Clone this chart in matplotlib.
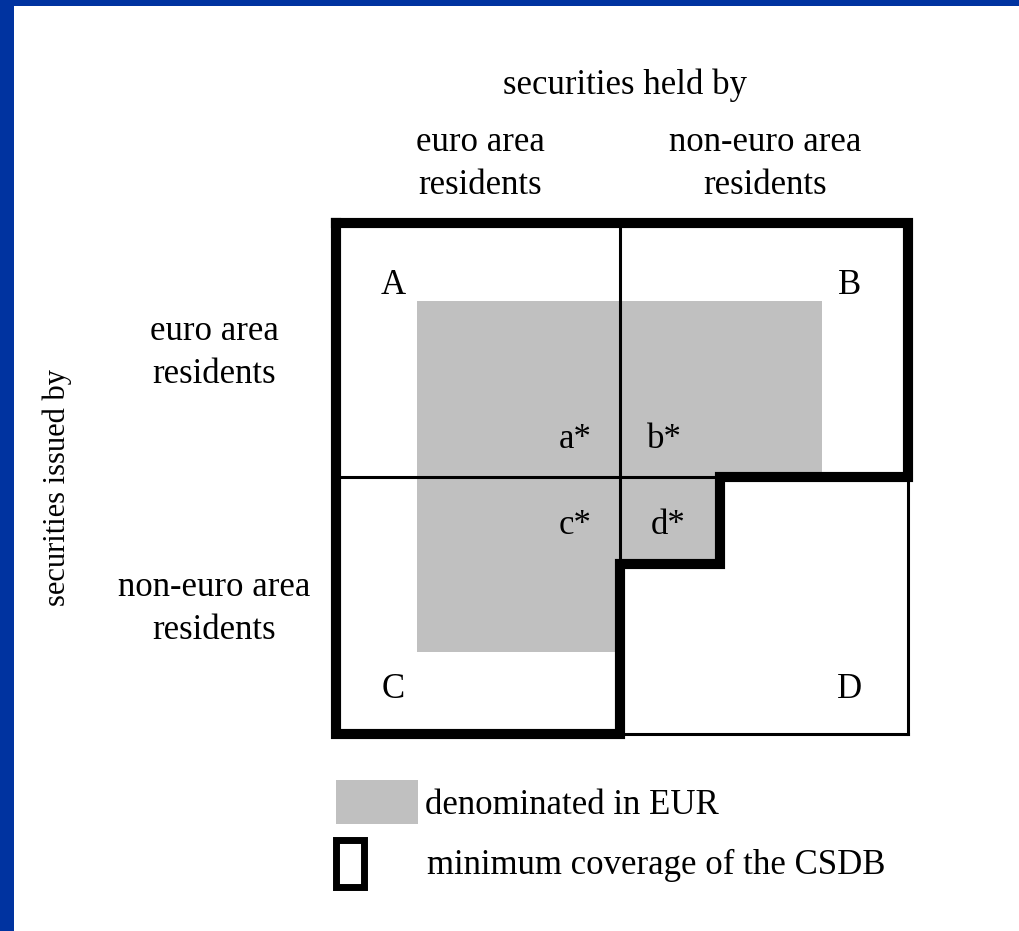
import matplotlib
matplotlib.use("Agg")
import matplotlib.pyplot as plt
from matplotlib.patches import Polygon, Rectangle

# Diagram texts
title_top = "securities held by"
title_side = "securities issued by"
col_labels = ["euro area\nresidents", "non-euro area\nresidents"]
row_labels = ["euro area\nresidents", "non-euro area\nresidents"]
corner_labels = ["A", "B", "C", "D"]
inner_labels = ["a*", "b*", "c*", "d*"]
legend_labels = ["denominated in EUR", "minimum coverage of the CSDB"]

blue = "#0033a0"
gray = "#c0c0c0"
W, H = 1019, 931

plt.rcParams['font.family'] = ['Liberation Serif', 'DejaVu Serif']
fs = 25
dy = 3  # small nudge so text sits like the original

fig = plt.figure(figsize=(W / 100, H / 100), dpi=100)
ax = fig.add_axes([0, 0, 1, 1])
ax.set_xlim(0, W)
ax.set_ylim(H, 0)
ax.axis('off')

# blue slide frame (left and top)
ax.add_patch(Rectangle((0, 0), 14, H, color=blue, lw=0))
ax.add_patch(Rectangle((0, 0), W, 6, color=blue, lw=0))

# grey area: denominated in EUR
ax.add_patch(Polygon([(417, 301), (822, 301), (822, 477), (720, 477), (720, 564),
                      (620, 564), (620, 652), (417, 652)], closed=True,
                     facecolor=gray, edgecolor='none'))

# thin grid lines
thin = 2.2
ax.plot([336, 720], [477, 477], color='black', lw=thin)
ax.plot([620, 620], [223, 564], color='black', lw=thin)
ax.plot([720, 908, 908], [477, 477, 734], color='black', lw=thin)
ax.plot([620, 908], [734, 734], color='black', lw=thin)

# thick outline: minimum coverage
thick = 7.3
ax.plot([336, 908, 908, 720, 720, 620, 620, 336, 336],
        [223, 223, 477, 477, 564, 564, 734, 734, 223],
        color='black', lw=thick, solid_joinstyle='miter', solid_capstyle='projecting')

# texts
ls = 1.42
ax.text(625, 82 + dy, title_top, ha='center', va='center', fontsize=fs)
ax.text(57, 487, title_side, ha='center', va='center', fontsize=22, rotation=90)
for x, lab in zip([480, 765], col_labels):
    ax.text(x, 161 + dy, lab, ha='center', va='center', fontsize=fs, linespacing=ls)
for y, lab in zip([350, 606], row_labels):
    ax.text(214, y + dy, lab, ha='center', va='center', fontsize=fs, linespacing=ls)
for (x, y), lab in zip([(393, 282), (850, 282), (393, 686), (850, 686)], corner_labels):
    ax.text(x, y + dy, lab, ha='center', va='center', fontsize=fs)
for (x, y), lab in zip([(575, 437), (664, 437), (575, 523), (668, 523)], inner_labels):
    ax.text(x, y + dy, lab, ha='center', va='center', fontsize=fs)

# legend
ax.add_patch(Rectangle((336, 780), 82, 44, facecolor=gray, edgecolor='none'))
ax.add_patch(Rectangle((336.5, 839.5), 28, 47, facecolor='none', edgecolor='black', lw=5,
                       joinstyle='miter'))
ax.text(425, 802 + dy, legend_labels[0], ha='left', va='center', fontsize=fs)
ax.text(427, 862 + dy, legend_labels[1], ha='left', va='center', fontsize=fs)

fig.savefig("out.png", dpi=100)
